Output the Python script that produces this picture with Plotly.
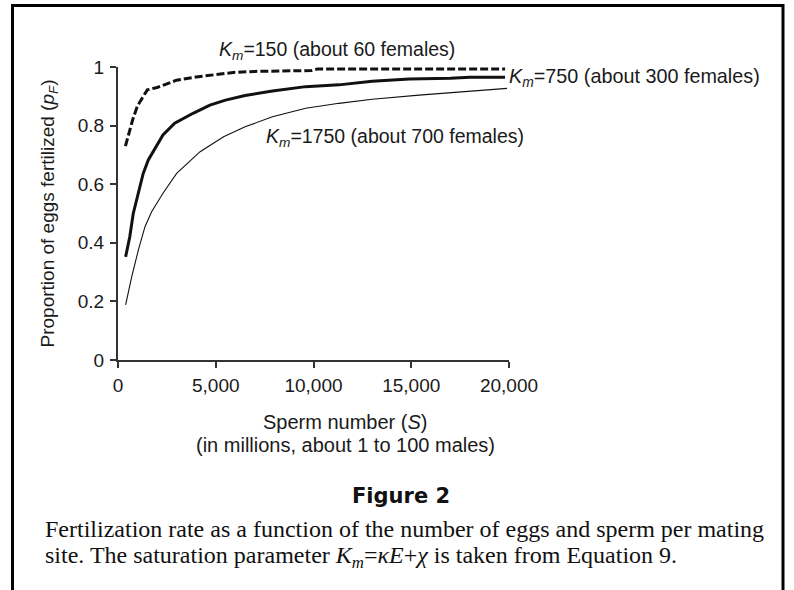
import plotly.graph_objects as go

# Sperm number S (millions) and proportion of eggs fertilized p_F, per saturation parameter K_m
s_km150 = [380, 550, 750, 1000, 1250, 1500, 2000, 3000, 4000, 5000, 6000, 7000, 8000,
           9000, 9900, 10200, 12000, 14000, 16000, 18000, 19800]
p_km150 = [0.730, 0.775, 0.820, 0.868, 0.897, 0.922, 0.930, 0.955, 0.966, 0.975, 0.982,
           0.985, 0.987, 0.987, 0.988, 0.993, 0.993, 0.993, 0.993, 0.993, 0.993]

s_km750 = [390, 600, 780, 1040, 1290, 1550, 1800, 2300, 2900, 3840, 4700, 5500, 6500,
           7900, 9600, 11300, 13000, 14900, 17000, 18000, 19800]
p_km750 = [0.352, 0.420, 0.500, 0.574, 0.637, 0.683, 0.711, 0.768, 0.808, 0.842, 0.870,
           0.887, 0.903, 0.918, 0.933, 0.939, 0.951, 0.959, 0.962, 0.965, 0.965]

s_km1750 = [390, 700, 1040, 1380, 1720, 2300, 3000, 3760, 4200, 5400, 6500, 7900, 9600,
            11300, 13000, 15400, 17900, 19900]
p_km1750 = [0.188, 0.284, 0.375, 0.455, 0.506, 0.569, 0.637, 0.683, 0.711, 0.762, 0.796,
            0.830, 0.859, 0.876, 0.890, 0.904, 0.918, 0.927]

x_ticks = [0, 5000, 10000, 15000, 20000]
x_ticklabels = ["0", "5,000", "10,000", "15,000", "20,000"]
y_ticks = [0, 0.2, 0.4, 0.6, 0.8, 1]
y_ticklabels = ["0", "0.2", "0.4", "0.6", "0.8", "1"]

SANS = "Liberation Sans, Arial, sans-serif"
SERIF = "Liberation Serif, Times New Roman, serif"
INK = "#1a1a1a"

# plot area geometry (pixels) used to place figure-level text
W, H = 794, 590
L, R, T, B = 118, 509, 67, 360


def paper_x(p):
    return (p - L) / (R - L)


def paper_y(p):
    return (B - p) / (B - T)


def paper_text(text, x, y, size, family=SANS, xanchor="center", color=INK):
    return dict(text=text, x=paper_x(x), y=paper_y(y), xref="paper", yref="paper",
                xanchor=xanchor, yanchor="middle", showarrow=False,
                font=dict(family=family, size=size, color=color))


fig = go.Figure()
fig.add_trace(go.Scatter(x=s_km150, y=p_km150, mode="lines",
                         line=dict(color="#111111", width=3, dash="8px,3px"),
                         name="K_m=150"))
fig.add_trace(go.Scatter(x=s_km750, y=p_km750, mode="lines",
                         line=dict(color="#111111", width=3),
                         name="K_m=750"))
fig.add_trace(go.Scatter(x=s_km1750, y=p_km1750, mode="lines",
                         line=dict(color="#111111", width=1.1),
                         name="K_m=1750"))

annotations = [
    paper_text("<i>K<sub>m</sub></i>=150 (about 60 females)", 336.5, 50, 19.5),
    dict(text="<i>K<sub>m</sub></i>=750 (about 300 females)", x=s_km750[-1], y=p_km750[-1],
         xref="x", yref="y", xanchor="left", yanchor="middle", xshift=2, showarrow=False,
         font=dict(family=SANS, size=19.8, color=INK)),
    dict(text="<i>K<sub>m</sub></i>=1750 (about 700 females)", x=7450, y=0.761,
         xref="x", yref="y", xanchor="left", yanchor="middle", showarrow=False,
         font=dict(family=SANS, size=19.5, color=INK)),
    # x-axis title, two lines
    paper_text("Sperm number (<i>S</i>)", 345.5, 422, 20),
    paper_text("(in millions, about 1 to 100 males)", 345.5, 445, 20),
    # figure label and caption
    paper_text("<b>Figure 2</b>", 401, 496, 21, family="DejaVu Sans, sans-serif",
               color="#111111"),
    paper_text("Fertilization rate as a function of the number of eggs and sperm per mating",
               43, 529, 24, family=SERIF, xanchor="left", color="#111111"),
    paper_text("site. The saturation parameter <i>K<sub>m</sub></i>=<i>κE</i>+<i>χ</i> is taken from Equation 9.",
               43, 557, 24, family=SERIF, xanchor="left", color="#111111"),
]

# outer frame of the figure panel
shapes = [
    dict(type="rect", xref="paper", yref="paper",
         x0=paper_x(12.5), x1=paper_x(783), y0=paper_y(600), y1=paper_y(5.5),
         line=dict(color="#000000", width=3), fillcolor="rgba(0,0,0,0)", layer="below"),
]

fig.update_layout(
    width=W, height=H, autosize=False,
    margin=dict(l=L, r=W - R, t=T, b=H - B, pad=0),
    paper_bgcolor="white", plot_bgcolor="white",
    showlegend=False,
    annotations=annotations,
    shapes=shapes,
    font=dict(family=SANS, color=INK),
)

fig.update_xaxes(
    range=[0, 20000], tickmode="array", tickvals=x_ticks, ticktext=x_ticklabels,
    showline=True, linecolor="#333333", linewidth=2, mirror=False,
    ticks="outside", ticklen=6, tickwidth=2, tickcolor="#333333",
    showgrid=False, zeroline=False,
    tickfont=dict(family=SANS, size=19, color=INK),
    ticklabelstandoff=1,
)
fig.update_yaxes(
    range=[0, 1], tickmode="array", tickvals=y_ticks, ticktext=y_ticklabels,
    showline=True, linecolor="#333333", linewidth=2, mirror=False,
    ticks="outside", ticklen=6, tickwidth=2, tickcolor="#333333",
    showgrid=False, zeroline=False,
    tickfont=dict(family=SANS, size=19, color=INK),
    ticklabelstandoff=2,
    title=dict(text="Proportion of eggs fertilized (<i>p<sub>F</sub></i>)",
               font=dict(family=SANS, size=19, color=INK), standoff=18),
)

fig.write_html("out.html")
